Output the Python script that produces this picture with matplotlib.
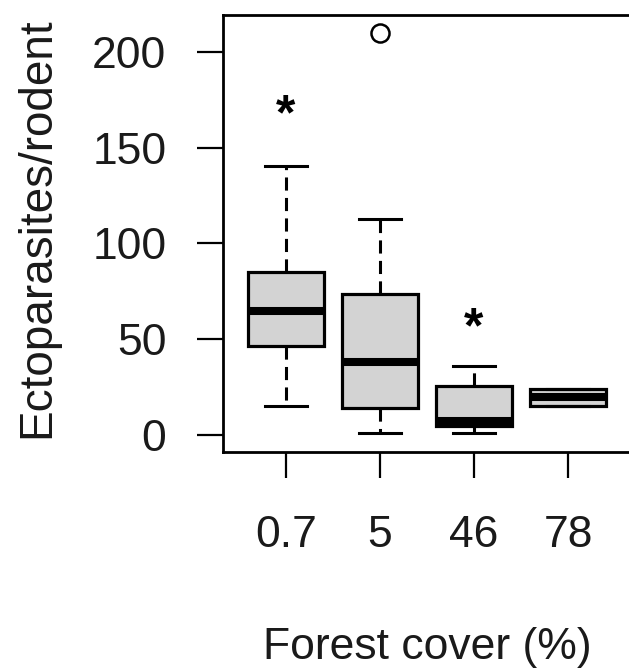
import matplotlib
matplotlib.use("Agg")
import matplotlib.pyplot as plt

plt.rcParams['font.family'] = ['Liberation Sans', 'DejaVu Sans']

# data
cover_labels = ['0.7', '5', '46', '78']
whisker_low = [15, 1, 1, 15.3]
q1 = [46.5, 14, 4.7, 15.3]
median = [64.5, 38, 7.3, 19.7]
q3 = [85.3, 73.5, 25.7, 24]
whisker_high = [140.5, 113, 36.2, 24]
outliers = [[], [210], [], []]
# significance stars (position above the box)
star_x = [1, 3]
star_y = [171, 60]

stats = []
for i in range(len(cover_labels)):
    stats.append({'label': cover_labels[i], 'whislo': whisker_low[i], 'q1': q1[i],
                  'med': median[i], 'q3': q3[i], 'whishi': whisker_high[i],
                  'fliers': outliers[i]})

fig = plt.figure(figsize=(6.29, 6.69), dpi=100)
ax = fig.add_axes([223 / 629, 1 - 452 / 669, (631 - 223) / 629, (452 - 15) / 669])

ax.bxp(stats, positions=range(1, 5), widths=0.8, capwidths=0.44, patch_artist=True,
       boxprops=dict(facecolor='#d3d3d3', edgecolor='black', linewidth=2.3),
       medianprops=dict(color='black', linewidth=5.8, solid_capstyle='butt'),
       whiskerprops=dict(color='black', linewidth=2.2, linestyle=(0, (4.3, 2.4))),
       capprops=dict(color='black', linewidth=2.2),
       flierprops=dict(marker='o', markerfacecolor='none', markeredgecolor='black',
                       markersize=13, markeredgewidth=1.8))

for x, y in zip(star_x, star_y):
    ax.annotate('*', xy=(x, y), xytext=(0, -16), textcoords='offset points',
                ha='center', va='baseline', fontsize=36, fontweight='bold')

ax.set_xlim(0.33, 4.67)
ax.set_ylim(-8.9, 219.3)
ax.set_yticks([0, 50, 100, 150, 200])
ax.tick_params(axis='both', length=18.7, width=1.6, labelsize=32, colors='black',
               labelcolor='#1a1a1a')
ax.tick_params(axis='y', pad=22)
ax.tick_params(axis='x', pad=27)

for s in ax.spines.values():
    s.set_linewidth(2)

ax.set_xlabel('Forest cover (%)', fontsize=32, color='#1a1a1a', labelpad=51)
ax.set_ylabel('Ectoparasites/rodent', fontsize=33, color='#1a1a1a', labelpad=24)
ax.yaxis.label.set_y(0.513)

fig.savefig('out.png', dpi=100)
